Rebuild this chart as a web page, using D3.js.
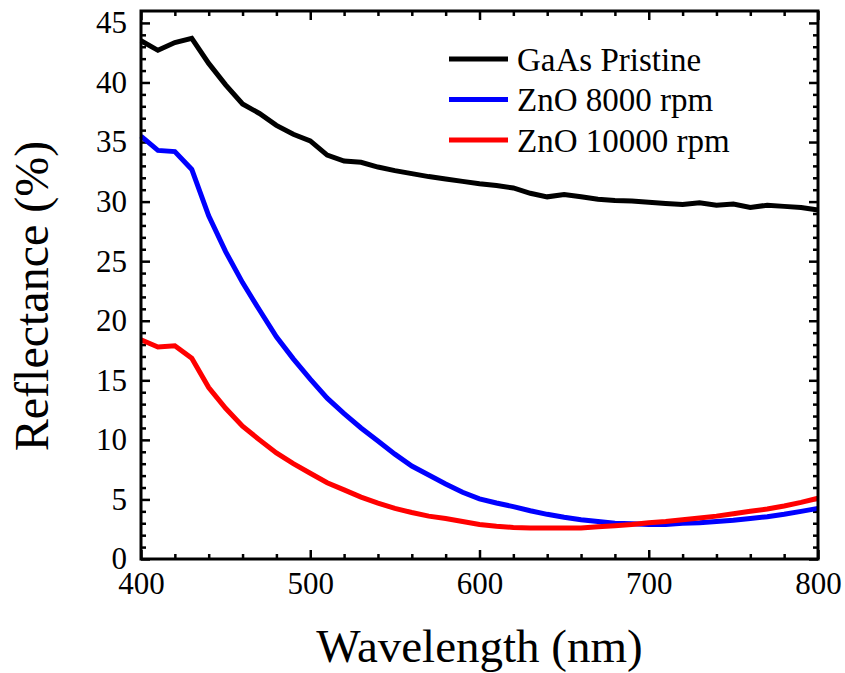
<!DOCTYPE html>
<html>
<head>
<meta charset="utf-8">
<script src="https://cdn.jsdelivr.net/npm/d3@7"></script>
<style>
  body { margin: 0; background: #fff; }
</style>
</head>
<body>
<div id="chart"></div>
<script>
const wavelength = [400, 410, 420, 430, 440, 450, 460, 470, 480, 490,
  500, 510, 520, 530, 540, 550, 560, 570, 580, 590,
  600, 610, 620, 630, 640, 650, 660, 670, 680, 690,
  700, 710, 720, 730, 740, 750, 760, 770, 780, 790, 800];

const gaasPristine = [43.5, 42.7, 43.35, 43.7, 41.6, 39.8, 38.2, 37.4, 36.4, 35.65,
  35.1, 33.9, 33.4, 33.3, 32.9, 32.6, 32.35, 32.1, 31.9, 31.7,
  31.5, 31.35, 31.15, 30.7, 30.4, 30.6, 30.4, 30.2, 30.1, 30.05,
  29.95, 29.85, 29.75, 29.9, 29.7, 29.8, 29.5, 29.7, 29.6, 29.5, 29.3];

const zno8000 = [35.5, 34.3, 34.2, 32.7, 28.8, 25.8, 23.2, 20.9, 18.65, 16.8,
  15.1, 13.5, 12.2, 11.0, 9.9, 8.8, 7.8, 7.05, 6.3, 5.6,
  5.05, 4.7, 4.4, 4.05, 3.75, 3.5, 3.3, 3.15, 3.0, 2.95,
  2.9, 2.9, 3.0, 3.05, 3.15, 3.25, 3.4, 3.55, 3.75, 4.0, 4.25];

const zno10000 = [18.4, 17.8, 17.9, 16.85, 14.4, 12.65, 11.15, 10.0, 8.9, 8.0,
  7.2, 6.4, 5.8, 5.2, 4.7, 4.25, 3.9, 3.6, 3.4, 3.15,
  2.9, 2.75, 2.65, 2.6, 2.6, 2.6, 2.6, 2.7, 2.8, 2.9,
  3.05, 3.15, 3.3, 3.45, 3.6, 3.8, 4.0, 4.2, 4.45, 4.75, 5.1];

const seriesNames = ["GaAs Pristine", "ZnO 8000 rpm", "ZnO 10000 rpm"];
const seriesColors = ["#000000", "#0000ff", "#ff0000"];
const seriesValues = [gaasPristine, zno8000, zno10000];

const xMajorTicks = [400, 500, 600, 700, 800];
const yMajorTicks = [0, 5, 10, 15, 20, 25, 30, 35, 40, 45];

const serif = '"Liberation Serif", "Times New Roman", Times, serif';

const width = 845, height = 673;
const margin = { left: 141, right: 27, top: 11, bottom: 114 };
const plotW = width - margin.left - margin.right;
const plotH = height - margin.top - margin.bottom;

const svg = d3.select("#chart").append("svg")
  .attr("width", width)
  .attr("height", height)
  .style("font-family", serif);

const x = d3.scaleLinear().domain([400, 800]).range([margin.left, margin.left + plotW]);
const y = d3.scaleLinear().domain([0, 46]).range([margin.top + plotH, margin.top]);

const xMinor = d3.range(400, 801, 20).filter(v => v % 100 !== 0);
const yMinor = d3.range(0, 46, 1).filter(v => v % 5 !== 0);

function styleAxis(g) {
  g.attr("font-family", null);
  g.select(".domain").remove();
  g.selectAll(".tick line").attr("stroke", "#000").attr("stroke-width", 2.5);
  g.selectAll("text").style("font-family", serif).attr("fill", "#000");
}

// bottom axis with labels
svg.append("g")
  .attr("transform", `translate(0,${y(0)})`)
  .call(d3.axisBottom(x).tickValues(xMajorTicks).tickSize(-9).tickPadding(13).tickFormat(d3.format("d")))
  .call(styleAxis)
  .call(g => g.selectAll("text").attr("font-size", 31).attr("dy", "0.72em"));
svg.append("g")
  .attr("transform", `translate(0,${y(0)})`)
  .call(d3.axisBottom(x).tickValues(xMinor).tickSize(-5).tickFormat(""))
  .call(styleAxis);

// top axis ticks only
svg.append("g")
  .attr("transform", `translate(0,${margin.top})`)
  .call(d3.axisTop(x).tickValues(xMajorTicks).tickSize(-9).tickFormat(""))
  .call(styleAxis);
svg.append("g")
  .attr("transform", `translate(0,${margin.top})`)
  .call(d3.axisTop(x).tickValues(xMinor).tickSize(-5).tickFormat(""))
  .call(styleAxis);

// left axis with labels
svg.append("g")
  .attr("transform", `translate(${margin.left},0)`)
  .call(d3.axisLeft(y).tickValues(yMajorTicks).tickSize(-9).tickPadding(14).tickFormat(d3.format("d")))
  .call(styleAxis)
  .call(g => g.selectAll("text").attr("font-size", 31));
svg.append("g")
  .attr("transform", `translate(${margin.left},0)`)
  .call(d3.axisLeft(y).tickValues(yMinor).tickSize(-5).tickFormat(""))
  .call(styleAxis);

// right axis ticks only
svg.append("g")
  .attr("transform", `translate(${margin.left + plotW},0)`)
  .call(d3.axisRight(y).tickValues(yMajorTicks).tickSize(-9).tickFormat(""))
  .call(styleAxis);
svg.append("g")
  .attr("transform", `translate(${margin.left + plotW},0)`)
  .call(d3.axisRight(y).tickValues(yMinor).tickSize(-5).tickFormat(""))
  .call(styleAxis);

// curves
const line = d3.line()
  .x((d, i) => x(wavelength[i]))
  .y(d => y(d));

svg.append("g")
  .selectAll("path")
  .data(seriesValues)
  .enter().append("path")
  .attr("d", line)
  .attr("fill", "none")
  .attr("stroke", (d, i) => seriesColors[i])
  .attr("stroke-width", 5)
  .attr("stroke-linejoin", "miter");

// frame
svg.append("rect")
  .attr("x", margin.left)
  .attr("y", margin.top)
  .attr("width", plotW)
  .attr("height", plotH)
  .attr("fill", "none")
  .attr("stroke", "#000")
  .attr("stroke-width", 3);

// legend
const legend = svg.append("g").attr("transform", "translate(449,59)");
const item = legend.selectAll("g")
  .data(seriesNames)
  .enter().append("g")
  .attr("transform", (d, i) => `translate(0,${i * 40.5})`);
item.append("line")
  .attr("x1", 0).attr("x2", 59)
  .attr("stroke", (d, i) => seriesColors[i])
  .attr("stroke-width", 5);
item.append("text")
  .attr("x", 68)
  .attr("dy", "0.35em")
  .attr("font-size", 33)
  .style("font-family", serif)
  .text(d => d);

// axis titles
svg.append("text")
  .attr("x", margin.left + plotW / 2)
  .attr("y", 662)
  .attr("text-anchor", "middle")
  .attr("font-size", 47)
  .style("font-family", serif)
  .text("Wavelength (nm)");

svg.append("text")
  .attr("transform", "translate(48,296) rotate(-90)")
  .attr("text-anchor", "middle")
  .attr("font-size", 48)
  .style("font-family", serif)
  .text("Reflectance (%)");
</script>
</body>
</html>
